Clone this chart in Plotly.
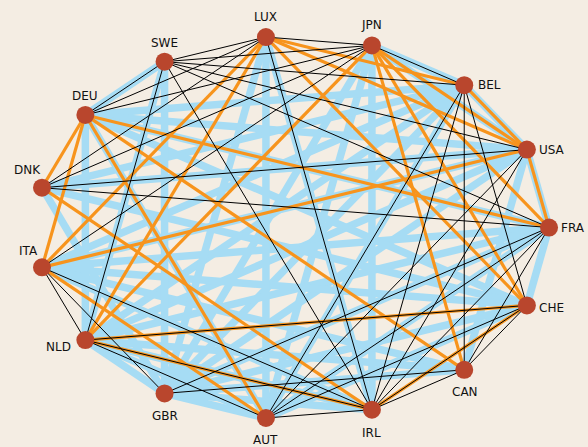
import math
import plotly.graph_objects as go

nodes = ["FRA", "USA", "BEL", "JPN", "LUX", "SWE", "DEU", "DNK",
         "ITA", "NLD", "GBR", "AUT", "IRL", "CAN", "CHE"]

blue_edges = [
    ("JPN", "BEL"), ("JPN", "USA"), ("JPN", "IRL"), ("JPN", "GBR"), ("JPN", "AUT"),
    ("BEL", "USA"), ("BEL", "DEU"), ("BEL", "DNK"), ("BEL", "ITA"), ("BEL", "NLD"), ("BEL", "GBR"),
    ("BEL", "AUT"),
    ("USA", "DNK"), ("USA", "ITA"), ("USA", "NLD"), ("USA", "GBR"), ("USA", "FRA"), ("USA", "CAN"),
    ("USA", "DEU"),
    ("FRA", "ITA"), ("FRA", "NLD"), ("FRA", "GBR"), ("FRA", "CHE"), ("FRA", "DEU"), ("FRA", "AUT"),
    ("CHE", "DEU"), ("CHE", "DNK"), ("CHE", "ITA"), ("CHE", "GBR"), ("CHE", "AUT"),
    ("CAN", "GBR"), ("CAN", "NLD"), ("CAN", "ITA"),
    ("SWE", "GBR"), ("SWE", "NLD"), ("SWE", "DEU"),
    ("LUX", "AUT"), ("LUX", "GBR"),
    ("DEU", "NLD"), ("DEU", "AUT"), ("DNK", "GBR"),
    ("NLD", "GBR"), ("NLD", "AUT"), ("NLD", "IRL"), ("GBR", "AUT"), ("GBR", "IRL"),
    ("LUX", "IRL"), ("IRL", "ITA"),
]

orange_edges = [
    ("DEU", "FRA"), ("DEU", "CAN"), ("DEU", "AUT"), ("DEU", "DNK"), ("DEU", "ITA"),
    ("ITA", "USA"), ("ITA", "AUT"), ("ITA", "LUX"), ("DNK", "IRL"),
    ("JPN", "NLD"), ("JPN", "USA"), ("JPN", "CHE"), ("JPN", "CAN"), ("JPN", "FRA"),
    ("LUX", "BEL"), ("LUX", "USA"), ("LUX", "NLD"), ("LUX", "CHE"),
    ("USA", "FRA"), ("BEL", "USA"), ("NLD", "CHE"), ("NLD", "IRL"), ("CHE", "IRL"),
]

black_edges = [
    ("SWE", "DEU"), ("SWE", "LUX"), ("SWE", "JPN"), ("SWE", "BEL"), ("SWE", "USA"),
    ("SWE", "FRA"), ("SWE", "NLD"), ("SWE", "IRL"),
    ("LUX", "JPN"), ("LUX", "DEU"), ("LUX", "DNK"), ("LUX", "IRL"),
    ("JPN", "BEL"), ("JPN", "DEU"), ("JPN", "DNK"), ("JPN", "ITA"),
    ("DNK", "USA"), ("DNK", "FRA"),
    ("BEL", "IRL"), ("BEL", "CAN"), ("BEL", "CHE"), ("BEL", "AUT"),
    ("USA", "AUT"), ("USA", "IRL"),
    ("FRA", "GBR"), ("FRA", "AUT"), ("FRA", "IRL"), ("FRA", "CAN"),
    ("CHE", "NLD"), ("CHE", "IRL"), ("CHE", "CAN"), ("CHE", "AUT"),
    ("CAN", "IRL"), ("CAN", "GBR"),
    ("ITA", "GBR"), ("ITA", "IRL"), ("ITA", "NLD"),
    ("NLD", "IRL"), ("NLD", "AUT"), ("AUT", "IRL"),
]

# label placement (pixel offsets from node centre, +y = down)
label_shift = {
    "FRA": (24, 0), "USA": (25, 0), "BEL": (25, 0), "JPN": (0, -20), "LUX": (0, -20),
    "SWE": (0, -19), "DEU": (0, -19), "DNK": (-15, -18), "ITA": (-14, -16),
    "NLD": (-27, 7), "GBR": (0, 23), "AUT": (0, 22), "IRL": (0, 23), "CAN": (1, 22),
    "CHE": (25, 3),
}

n = len(nodes)
pos = {name: (math.cos(2 * math.pi * i / n), math.sin(2 * math.pi * i / n))
       for i, name in enumerate(nodes)}


def edge_xy(edges):
    xs, ys = [], []
    for a, b in edges:
        xs += [pos[a][0], pos[b][0], None]
        ys += [pos[a][1], pos[b][1], None]
    return xs, ys


fig = go.Figure()
for edges, color, width in [(blue_edges, "#a6dcf4", 7.5),
                            (orange_edges, "#f7941d", 3.2),
                            (black_edges, "#000000", 1)]:
    xs, ys = edge_xy(edges)
    fig.add_trace(go.Scatter(x=xs, y=ys, mode="lines",
                             line=dict(color=color, width=width),
                             hoverinfo="skip", showlegend=False))

fig.add_trace(go.Scatter(
    x=[pos[k][0] for k in nodes], y=[pos[k][1] for k in nodes],
    mode="markers", marker=dict(size=18, color="#b9462d", line=dict(width=0)),
    text=nodes, hoverinfo="text", showlegend=False))

for k in nodes:
    dx, dy = label_shift[k]
    fig.add_annotation(x=pos[k][0], y=pos[k][1], text=k, showarrow=False,
                       xshift=dx, yshift=-dy,
                       font=dict(family="DejaVu Sans", size=12, color="#111111"))

fig.update_layout(
    width=588, height=447,
    margin=dict(l=0, r=0, t=0, b=0),
    paper_bgcolor="#f4ede3", plot_bgcolor="#f4ede3",
    xaxis=dict(range=[-1.142, 1.152], visible=False, fixedrange=True),
    yaxis=dict(range=[-1.146, 1.188], visible=False, fixedrange=True),
)

fig.write_html(
    "out.html",
    config={"displayModeBar": False},
    post_script="document.body.style.margin='0';document.body.style.background='#f4ede3';",
)
